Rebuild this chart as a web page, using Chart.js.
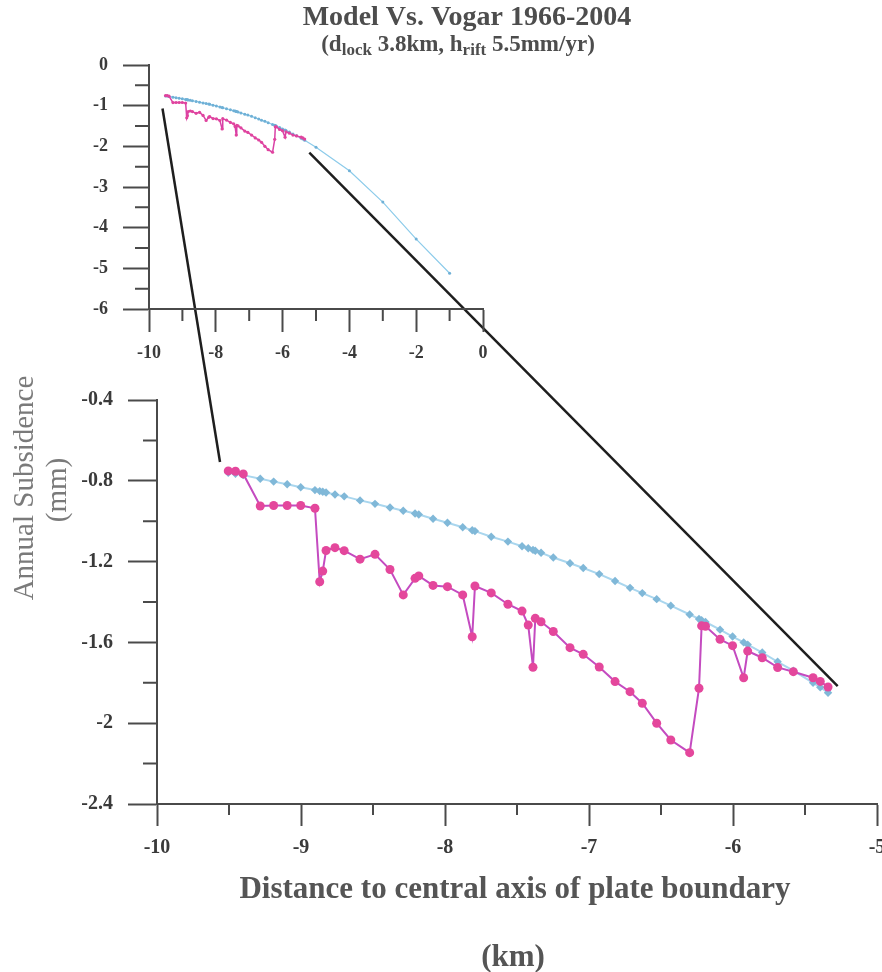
<!DOCTYPE html>
<html>
<head>
<meta charset="utf-8">
<script src="https://cdn.jsdelivr.net/npm/chart.js@4.4.1/dist/chart.umd.min.js"></script>
<style>
  html, body { margin: 0; padding: 0; background: #fff; }
  #wrap { position: relative; width: 882px; height: 972px; }
  #main, #inset { position: absolute; left: 0; top: 0; }
</style>
</head>
<body>
<div id="wrap">
  <canvas id="main" width="882" height="972"></canvas>
  <canvas id="inset" width="520" height="380"></canvas>
</div>
<script>
// distance to plate boundary axis (km), levelling points 1966-2004
var distance = [-9.505,-9.455,-9.401,-9.283,-9.190,-9.096,-9.002,-8.903,-8.870,-8.849,
  -8.826,-8.764,-8.700,-8.590,-8.486,-8.382,-8.290,-8.208,-8.182,-8.083,
  -7.983,-7.877,-7.811,-7.792,-7.679,-7.563,-7.465,-7.422,-7.389,-7.373,
  -7.333,-7.248,-7.132,-7.040,-6.929,-6.819,-6.715,-6.630,-6.530,-6.432,
  -6.301,-6.236,-6.218,-6.191,-6.090,-6.003,-5.926,-5.898,-5.797,-5.690,
  -5.581,-5.444,-5.394,-5.340];
// observed annual subsidence (mm)
var observed = [-0.751,-0.753,-0.766,-0.925,-0.922,-0.922,-0.922,-0.936,-1.300,-1.247,
  -1.145,-1.131,-1.146,-1.188,-1.164,-1.239,-1.365,-1.283,-1.271,-1.318,
  -1.324,-1.365,-1.572,-1.321,-1.355,-1.411,-1.445,-1.514,-1.723,-1.481,
  -1.498,-1.546,-1.626,-1.659,-1.722,-1.794,-1.844,-1.901,-2.000,-2.083,
  -2.146,-1.827,-1.518,-1.520,-1.585,-1.616,-1.775,-1.643,-1.676,-1.724,
  -1.745,-1.775,-1.793,-1.821];
// model subsidence at the same points
var model = [-0.760,-0.765,-0.772,-0.790,-0.804,-0.817,-0.832,-0.846,-0.851,-0.854,
  -0.858,-0.868,-0.877,-0.897,-0.914,-0.932,-0.948,-0.962,-0.967,-0.988,
  -1.008,-1.030,-1.045,-1.049,-1.077,-1.101,-1.124,-1.134,-1.142,-1.146,
  -1.156,-1.180,-1.208,-1.232,-1.262,-1.296,-1.330,-1.356,-1.386,-1.418,
  -1.462,-1.484,-1.490,-1.499,-1.537,-1.571,-1.600,-1.611,-1.650,-1.696,
  -1.740,-1.800,-1.822,-1.849];
// model further towards the axis (inset only)
var modelFarX = [-5, -4, -3, -2, -1];
var modelFarY = [-2.02, -2.60, -3.37, -4.28, -5.12];

var mainXMinor = [-9.5, -8.5, -7.5, -6.5, -5.5];
var mainYMinor = [-0.6, -1.0, -1.4, -1.8, -2.2];
var insetXMinor = [-9, -7, -5, -3, -1];
var insetYMinor = [-0.5, -1.5, -2.5, -3.5, -4.5, -5.5];

// zoom connectors: [inset x, inset y] -> [main x, main y]
var connectors = [
  { from: [-9.596, -1.069], to: [-9.5625, -0.707] },
  { from: [-5.20, -2.155], to: [-5.273, -1.816] }
];

var serif = '"Liberation Serif", "Times New Roman", serif';
var axisColor = '#4a4a4a';

function pts(xs, ys) {
  return xs.map(function(x, i) { return { x: x, y: ys[i] }; });
}

function minorTicks(xMinor, yMinor, xLen, yLen) {
  return {
    id: 'minorTicks',
    afterDraw: function(chart) {
      var ctx = chart.ctx, xs = chart.scales.x, ys = chart.scales.y;
      ctx.save();
      ctx.strokeStyle = axisColor;
      ctx.lineWidth = 2;
      ctx.beginPath();
      xMinor.forEach(function(v) {
        var px = xs.getPixelForValue(v);
        ctx.moveTo(px, ys.bottom); ctx.lineTo(px, ys.bottom + xLen);
      });
      yMinor.forEach(function(v) {
        var py = ys.getPixelForValue(v);
        ctx.moveTo(xs.left, py); ctx.lineTo(xs.left - yLen, py);
      });
      ctx.stroke();
      ctx.restore();
    }
  };
}

function axisOpts(min, max, step, tickLen, pad, size, w, h) {
  return {
    type: 'linear', min: min, max: max,
    border: { display: true, color: axisColor, width: 2 },
    grid: { drawOnChartArea: false, drawTicks: true, tickLength: tickLen, tickColor: axisColor, tickWidth: 2 },
    ticks: {
      stepSize: step, padding: pad, color: '#3a3a3a',
      font: { family: serif, size: size, weight: 'bold' },
      callback: function(v) { return String(Math.round(v * 10) / 10); }
    },
    afterFit: function(s) {
      if (w) s.width = w;
      if (h) s.height = h;
      s.paddingLeft = 0; s.paddingRight = 0; s.paddingTop = 0; s.paddingBottom = 0;
    }
  };
}

// ---------- inset (full range) ----------
var insetChart = new Chart(document.getElementById('inset'), {
  type: 'scatter',
  data: {
    datasets: [
      {
        data: pts(distance, observed), showLine: true, order: 0,
        borderColor: '#d940a6', borderWidth: 1.5,
        pointRadius: 1.6, pointBackgroundColor: '#e0449e', pointBorderWidth: 0
      },
      {
        data: pts(distance.concat(modelFarX), model.concat(modelFarY)), showLine: true, order: 1,
        borderColor: '#8ccbea', borderWidth: 1.2,
        pointRadius: 1.5, pointBackgroundColor: '#6fb0d6', pointBorderWidth: 0
      }
    ]
  },
  options: {
    responsive: false, animation: false,
    layout: { padding: { top: 65, left: 0, right: 37, bottom: 0 } },
    plugins: { legend: { display: false }, tooltip: { enabled: false } },
    scales: {
      x: axisOpts(-10, 0, 2, 23, 11, 18, null, 71),
      y: axisOpts(-6, 0, 1, 26, 15, 18, 149, null)
    }
  },
  plugins: [minorTicks(insetXMinor, insetYMinor, 12, 14)]
});

// ---------- main (zoomed) ----------
var overlay = {
  id: 'overlay',
  afterDraw: function(chart) {
    var ctx = chart.ctx;
    var mx = chart.scales.x, my = chart.scales.y;
    var ix = insetChart.scales.x, iy = insetChart.scales.y;
    ctx.save();
    // connectors
    ctx.strokeStyle = '#1e1e1e';
    ctx.lineWidth = 2.5;
    connectors.forEach(function(c) {
      ctx.beginPath();
      ctx.moveTo(ix.getPixelForValue(c.from[0]), iy.getPixelForValue(c.from[1]));
      ctx.lineTo(mx.getPixelForValue(c.to[0]), my.getPixelForValue(c.to[1]));
      ctx.stroke();
    });

    // title
    ctx.fillStyle = '#4d4d4d';
    ctx.textBaseline = 'middle';
    ctx.textAlign = 'center';
    ctx.font = 'bold 28px ' + serif;
    ctx.fillText('Model Vs. Vogar 1966-2004', 467, 18);

    // subtitle with subscripts
    var parts = [
      ['(d', 23, 0], ['lock', 17, 6], [' 3.8km, h', 23, 0], ['rift', 17, 6], [' 5.5mm/yr)', 23, 0]
    ];
    var total = 0;
    parts.forEach(function(p) { ctx.font = 'bold ' + p[1] + 'px ' + serif; total += ctx.measureText(p[0]).width; });
    var x = 458 - total / 2;
    ctx.textAlign = 'left';
    parts.forEach(function(p) {
      ctx.font = 'bold ' + p[1] + 'px ' + serif;
      ctx.fillText(p[0], x, 45 + p[2]);
      x += ctx.measureText(p[0]).width;
    });

    // axis titles
    ctx.textAlign = 'center';
    ctx.fillStyle = '#555';
    ctx.font = 'bold 31px ' + serif;
    ctx.fillText('Distance to central axis of plate boundary', 515, 890);
    ctx.fillText('(km)', 513, 958);

    ctx.fillStyle = '#7a7a7a';
    ctx.font = '29px ' + serif;
    ctx.translate(25, 488);
    ctx.rotate(-Math.PI / 2);
    ctx.fillText('Annual Subsidence', 0, 0);
    ctx.restore();

    ctx.save();
    ctx.fillStyle = '#7a7a7a';
    ctx.font = '29px ' + serif;
    ctx.textAlign = 'center';
    ctx.textBaseline = 'middle';
    ctx.translate(58, 490);
    ctx.rotate(-Math.PI / 2);
    ctx.fillText('(mm)', 0, 0);
    ctx.restore();
  }
};

new Chart(document.getElementById('main'), {
  type: 'scatter',
  data: {
    datasets: [
      {
        data: pts(distance, observed), showLine: true, order: 0,
        borderColor: '#c44bc0', borderWidth: 2,
        pointRadius: 4.5, pointBackgroundColor: '#e4479c', pointBorderColor: '#e4479c', pointBorderWidth: 0
      },
      {
        data: pts(distance, model), showLine: true, order: 1,
        borderColor: '#a9d6ee', borderWidth: 2,
        pointStyle: 'rectRot', pointRadius: 4.2,
        pointBackgroundColor: '#80b8d8', pointBorderColor: '#80b8d8', pointBorderWidth: 0
      }
    ]
  },
  options: {
    responsive: false, animation: false,
    layout: { padding: { top: 400, left: 0, right: 5, bottom: 0 } },
    plugins: { legend: { display: false }, tooltip: { enabled: false } },
    scales: {
      x: axisOpts(-10, -5, 1, 22, 10, 20, null, 168),
      y: axisOpts(-2.4, -0.4, 0.4, 29, 15, 20, 157, null)
    }
  },
  plugins: [minorTicks(mainXMinor, mainYMinor, 11, 14), overlay]
});
</script>
</body>
</html>
